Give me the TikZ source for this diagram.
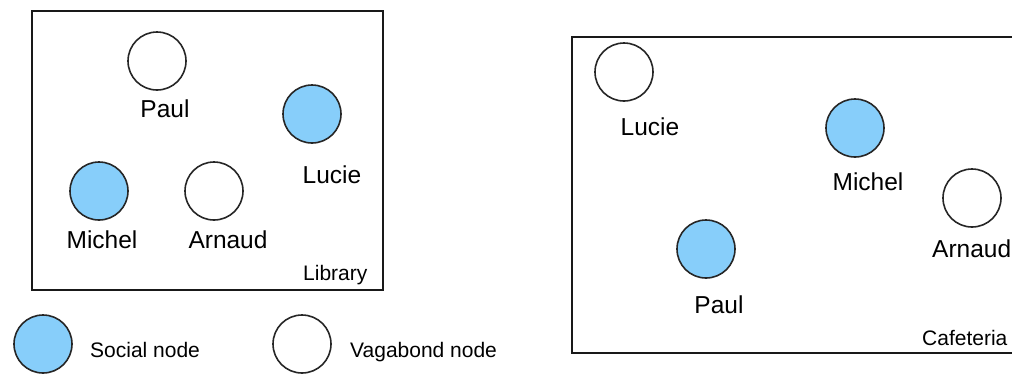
\documentclass[tikz,border=0pt]{standalone}
\usepackage{fontspec}
\setmainfont{Liberation Sans}
\definecolor{socialblue}{RGB}{135,206,250}
\tikzset{
  person/.style={circle, draw=black!85, line width=1.6pt, minimum size=58pt, inner sep=0pt},
  social/.style={person, fill=socialblue},
  vagabond/.style={person, fill=white},
  personlabel/.style={font=\fontsize{24.5}{26}\selectfont, inner sep=0pt, anchor=base},
  smalllabel/.style={font=\fontsize{21}{23}\selectfont, inner sep=0pt, anchor=base west},
  room/.style={draw=black!90, line width=2.4pt}
}
\begin{document}
\begin{tikzpicture}[x=1pt, y=-1pt]
\useasboundingbox (0,0) rectangle (1012,373);
\clip (0,0) rectangle (1012,373);

% Library room
\draw[room] (32,11) rectangle (383,290);
\node[vagabond] (libPaul)   at (157,61)  {};
\node[social]   (libLucie)  at (312,114) {};
\node[social]   (libMichel) at (99,191)  {};
\node[vagabond] (libArnaud) at (214,191) {};
\node[personlabel] (libPaulL)   at (165,117) {Paul};
\node[personlabel] (libLucieL)  at (332,183) {Lucie};
\node[personlabel] (libMichelL) at (102,248) {Michel};
\node[personlabel] (libArnaudL) at (228,248) {Arnaud};
\node[smalllabel] (libName) at (303,280) {Library};

% Cafeteria room
\draw[room] (572,37) rectangle (1030,353);
\node[vagabond] (cafLucie)  at (624,72)  {};
\node[social]   (cafMichel) at (855,128) {};
\node[vagabond] (cafArnaud) at (972,198) {};
\node[social]   (cafPaul)   at (706,249) {};
\node[personlabel] (cafLucieL)  at (650,135) {Lucie};
\node[personlabel] (cafMichelL) at (868,190) {Michel};
\node[personlabel, anchor=base west] (cafArnaudL) at (932,257) {Arnaud};
\node[personlabel] (cafPaulL)   at (719,313) {Paul};
\node[smalllabel] (cafName) at (922,345) {Cafeteria};

% Legend
\node[social]   (keySocial)   at (43,344)  {};
\node[smalllabel] (keySocialL) at (90,357) {Social node};
\node[vagabond] (keyVagabond) at (302,344) {};
\node[smalllabel] (keyVagabondL) at (350,357) {Vagabond node};
\end{tikzpicture}
\end{document}
